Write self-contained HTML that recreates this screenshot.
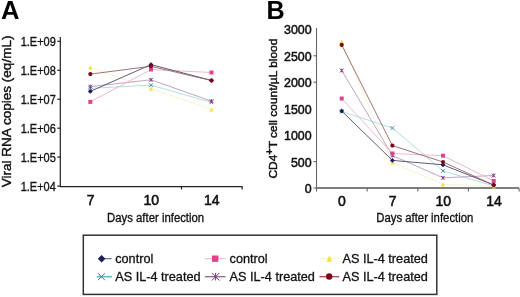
<!DOCTYPE html><html><head><meta charset="utf-8"><style>html,body{margin:0;padding:0;background:#fff;}svg{display:block;will-change:transform;}text{font-family:"Liberation Sans",sans-serif;stroke:#111;stroke-width:0.3px;}</style></head><body>
<svg width="520" height="297" viewBox="0 0 520 297">
<rect width="520" height="297" fill="#fff"/>
<text x="0.9" y="19.2" font-size="25.6" font-weight="bold" fill="#000" style="stroke:none">A</text>
<text x="266.4" y="19.2" font-size="25.2" font-weight="bold" fill="#000" style="stroke:none">B</text>
<g stroke="#222" stroke-width="1.2" fill="none">
<path d="M60.3 37V186.6H242.5"/>
<path d="M57.3 41.3H60.3"/>
<path d="M57.3 70.3H60.3"/>
<path d="M57.3 99.2H60.3"/>
<path d="M57.3 128.2H60.3"/>
<path d="M57.3 157.1H60.3"/>
<path d="M57.3 186.1H60.3"/>
<path d="M181.5 186.6V189.6M242.2 186.6V189.6"/>
</g>
<text transform="translate(55.8 45.9) scale(1 1.08)" font-size="11" text-anchor="end" fill="#111">1.E+09</text>
<text transform="translate(55.8 74.9) scale(1 1.08)" font-size="11" text-anchor="end" fill="#111">1.E+08</text>
<text transform="translate(55.8 103.8) scale(1 1.08)" font-size="11" text-anchor="end" fill="#111">1.E+07</text>
<text transform="translate(55.8 132.8) scale(1 1.08)" font-size="11" text-anchor="end" fill="#111">1.E+06</text>
<text transform="translate(55.8 161.7) scale(1 1.08)" font-size="11" text-anchor="end" fill="#111">1.E+05</text>
<text transform="translate(55.8 190.7) scale(1 1.08)" font-size="11" text-anchor="end" fill="#111">1.E+04</text>
<text x="90.6" y="204.8" font-size="14" text-anchor="middle" fill="#111" style="stroke-width:0.55px">7</text>
<text x="151.3" y="204.8" font-size="14" text-anchor="middle" fill="#111" style="stroke-width:0.55px">10</text>
<text x="211.8" y="204.8" font-size="14" text-anchor="middle" fill="#111" style="stroke-width:0.55px">14</text>
<text transform="translate(155.6 222) scale(1 1.12)" font-size="11.35" text-anchor="middle" fill="#111">Days after infection</text>
<text transform="translate(11.0 111.4) rotate(-90) scale(1.075 1)" font-size="12.6" text-anchor="middle" fill="#111" style="stroke-width:0.4px">Viral RNA copies (eq/mL)</text>
<polyline points="90.3,67.4 151.0,88.7 211.5,109.5" fill="none" stroke="#f5f0cc" stroke-width="0.9"/>
<polyline points="90.3,88.3 151.0,85.2 211.5,102.3" fill="none" stroke="#a8dadc" stroke-width="0.9"/>
<polyline points="90.3,86.6 151.0,79.8 211.5,101.2" fill="none" stroke="#b69cb6" stroke-width="0.9"/>
<polyline points="90.3,101.9 151.0,69.5 211.5,72.5" fill="none" stroke="#ebb2c8" stroke-width="0.9"/>
<polyline points="90.3,91.4 151.0,64.6 211.5,80.4" fill="none" stroke="#4c4c66" stroke-width="0.9"/>
<polyline points="90.3,74.1 151.0,66.3 211.5,80.6" fill="none" stroke="#946468" stroke-width="0.9"/>
<path d="M90.3 65.3L92.4 69.5L88.2 69.5Z" fill="#f2e23a"/>
<path d="M151 86.6L153.1 90.8L148.9 90.8Z" fill="#f2e23a"/>
<path d="M211.5 107.4L213.6 111.6L209.4 111.6Z" fill="#f2e23a"/>
<path d="M88.4 86.4L92.2 90.2M92.2 86.4L88.4 90.2" stroke="#4a8c9c" stroke-width="1" fill="none"/>
<path d="M149.1 83.3L152.9 87.1M152.9 83.3L149.1 87.1" stroke="#4a8c9c" stroke-width="1" fill="none"/>
<path d="M209.6 100.4L213.4 104.2M213.4 100.4L209.6 104.2" stroke="#4a8c9c" stroke-width="1" fill="none"/>
<path d="M88.4 84.7L92.2 88.5M92.2 84.7L88.4 88.5M90.3 84.7L90.3 88.5" stroke="#843c84" stroke-width="1" fill="none"/>
<path d="M149.1 77.9L152.9 81.7M152.9 77.9L149.1 81.7M151 77.9L151 81.7" stroke="#843c84" stroke-width="1" fill="none"/>
<path d="M209.6 99.3L213.4 103.1M213.4 99.3L209.6 103.1M211.5 99.3L211.5 103.1" stroke="#843c84" stroke-width="1" fill="none"/>
<rect x="88.3" y="99.9" width="4" height="4" fill="#d9478a"/>
<rect x="149" y="67.5" width="4" height="4" fill="#d9478a"/>
<rect x="209.5" y="70.5" width="4" height="4" fill="#d9478a"/>
<path d="M90.3 89L92.7 91.4L90.3 93.8L87.9 91.4Z" fill="#1c1c5c"/>
<path d="M151 62.2L153.4 64.6L151 67L148.6 64.6Z" fill="#1c1c5c"/>
<path d="M211.5 78L213.9 80.4L211.5 82.8L209.1 80.4Z" fill="#1c1c5c"/>
<circle cx="90.3" cy="74.1" r="2.1" fill="#7a0a1a"/>
<circle cx="151" cy="66.3" r="2.1" fill="#7a0a1a"/>
<circle cx="211.5" cy="80.6" r="2.1" fill="#7a0a1a"/>
<path d="M316.5 188H519" stroke="#555" stroke-width="1.6" fill="none"/>
<g stroke="#666" stroke-width="1.1" fill="none">
<path d="M316.5 28V191.5"/>
<path d="M313.5 188.0H316.5"/>
<path d="M313.5 161.6H316.5"/>
<path d="M313.5 82.2H316.5"/>
<path d="M313.5 55.8H316.5"/>
<path d="M367.1 188V191.6"/>
<path d="M417.8 188V191.6"/>
<path d="M468.4 188V191.6"/>
<path d="M519.1 188V191.6"/>
</g>
<text x="311.6" y="193.0" font-size="12.4" text-anchor="end" fill="#111" style="stroke-width:0.5px">0</text>
<text x="311.6" y="166.6" font-size="12.4" text-anchor="end" fill="#111" style="stroke-width:0.5px">500</text>
<text x="311.6" y="140.1" font-size="12.4" text-anchor="end" fill="#111" style="stroke-width:0.5px">1000</text>
<text x="311.6" y="113.7" font-size="12.4" text-anchor="end" fill="#111" style="stroke-width:0.5px">1500</text>
<text x="311.6" y="87.2" font-size="12.4" text-anchor="end" fill="#111" style="stroke-width:0.5px">2000</text>
<text x="311.6" y="60.8" font-size="12.4" text-anchor="end" fill="#111" style="stroke-width:0.5px">2500</text>
<text x="311.6" y="34.4" font-size="12.4" text-anchor="end" fill="#111" style="stroke-width:0.5px">3000</text>
<text x="342.0" y="206.0" font-size="14" text-anchor="middle" fill="#111" style="stroke-width:0.55px">0</text>
<text x="392.7" y="206.0" font-size="14" text-anchor="middle" fill="#111" style="stroke-width:0.55px">7</text>
<text x="443.3" y="206.0" font-size="14" text-anchor="middle" fill="#111" style="stroke-width:0.55px">10</text>
<text x="494.0" y="206.0" font-size="14" text-anchor="middle" fill="#111" style="stroke-width:0.55px">14</text>
<text transform="translate(424.8 222) scale(1 1.12)" font-size="11.35" text-anchor="middle" fill="#111">Days after infection</text>
<text transform="translate(276.5 178.5) rotate(-90) scale(1.085 1)" font-size="11" fill="#111" style="stroke-width:0.45px">CD4<tspan dy="-3.4" font-size="10" font-weight="bold" style="stroke-width:0.2px">+</tspan><tspan dy="3.4">T cell count/µL blood</tspan></text>
<polyline points="341.7,41.7 392.4,162.5 443.0,184.3 493.7,186.5" fill="none" stroke="#f5f0cc" stroke-width="0.9"/>
<polyline points="341.7,111.5 392.4,128.0 443.0,170.9 493.7,186.0" fill="none" stroke="#a8dadc" stroke-width="0.9"/>
<polyline points="341.7,70.5 392.4,155.5 443.0,177.8 493.7,175.5" fill="none" stroke="#b69cb6" stroke-width="0.9"/>
<polyline points="341.7,98.5 392.4,153.5 443.0,155.7 493.7,181.0" fill="none" stroke="#ebb2c8" stroke-width="0.9"/>
<polyline points="341.7,111.0 392.4,160.4 443.0,164.8 493.7,185.0" fill="none" stroke="#4c4c66" stroke-width="0.9"/>
<polyline points="341.7,44.9 392.4,145.6 443.0,162.0 493.7,185.0" fill="none" stroke="#946468" stroke-width="0.9"/>
<path d="M341.7 39.6L343.8 43.8L339.6 43.8Z" fill="#f2e23a"/>
<path d="M392.4 160.4L394.5 164.6L390.3 164.6Z" fill="#f2e23a"/>
<path d="M443 182.2L445.1 186.4L440.9 186.4Z" fill="#f2e23a"/>
<path d="M493.7 184.4L495.8 188.6L491.6 188.6Z" fill="#f2e23a"/>
<path d="M339.8 109.6L343.6 113.4M343.6 109.6L339.8 113.4" stroke="#4a8c9c" stroke-width="1" fill="none"/>
<path d="M390.5 126.1L394.3 129.9M394.3 126.1L390.5 129.9" stroke="#4a8c9c" stroke-width="1" fill="none"/>
<path d="M441.1 169L444.9 172.8M444.9 169L441.1 172.8" stroke="#4a8c9c" stroke-width="1" fill="none"/>
<path d="M491.8 184.1L495.6 187.9M495.6 184.1L491.8 187.9" stroke="#4a8c9c" stroke-width="1" fill="none"/>
<path d="M339.8 68.6L343.6 72.4M343.6 68.6L339.8 72.4M341.7 68.6L341.7 72.4" stroke="#843c84" stroke-width="1" fill="none"/>
<path d="M390.5 153.6L394.3 157.4M394.3 153.6L390.5 157.4M392.4 153.6L392.4 157.4" stroke="#843c84" stroke-width="1" fill="none"/>
<path d="M441.1 175.9L444.9 179.7M444.9 175.9L441.1 179.7M443 175.9L443 179.7" stroke="#843c84" stroke-width="1" fill="none"/>
<path d="M491.8 173.6L495.6 177.4M495.6 173.6L491.8 177.4M493.7 173.6L493.7 177.4" stroke="#843c84" stroke-width="1" fill="none"/>
<rect x="339.7" y="96.5" width="4" height="4" fill="#d9478a"/>
<rect x="390.4" y="151.5" width="4" height="4" fill="#d9478a"/>
<rect x="441" y="153.7" width="4" height="4" fill="#d9478a"/>
<rect x="491.7" y="179" width="4" height="4" fill="#d9478a"/>
<path d="M341.7 108.6L344.1 111L341.7 113.4L339.3 111Z" fill="#1c1c5c"/>
<path d="M392.4 158L394.8 160.4L392.4 162.8L390 160.4Z" fill="#1c1c5c"/>
<path d="M443 162.4L445.4 164.8L443 167.2L440.6 164.8Z" fill="#1c1c5c"/>
<path d="M493.7 182.6L496.1 185L493.7 187.4L491.3 185Z" fill="#1c1c5c"/>
<circle cx="341.7" cy="44.9" r="2.1" fill="#7a0a1a"/>
<circle cx="392.4" cy="145.6" r="2.1" fill="#7a0a1a"/>
<circle cx="443" cy="162" r="2.1" fill="#7a0a1a"/>
<circle cx="493.7" cy="185" r="2.1" fill="#7a0a1a"/>
<rect x="83.3" y="235.2" width="353.5" height="59.2" fill="none" stroke="#333" stroke-width="1.5"/>
<path d="M104 258.7H111.6" stroke="#505068" stroke-width="1"/>
<path d="M96.8 276.7H112" stroke="#5cc8c8" stroke-width="1.8"/>
<path d="M204.8 258.7H225.5" stroke="#e8b4ca" stroke-width="1"/>
<path d="M204.8 276.7H225.6" stroke="#8a6a8a" stroke-width="1.3"/>
<path d="M319.5 258.7H339.3" stroke="#f6f1cc" stroke-width="1"/>
<path d="M319.4 276.7H339.3" stroke="#a04858" stroke-width="1.3"/>
<path d="M101.6 254.9L105.4 258.7L101.6 262.5L97.8 258.7Z" fill="#1c1c5c"/>
<path d="M97.9 273.2L104.9 280.2M104.9 273.2L97.9 280.2" stroke="#5a6a9a" stroke-width="1" fill="none"/>
<rect x="212" y="255.5" width="6.4" height="6.4" fill="#d9478a"/>
<path d="M211.8 272.9L219.4 280.5M219.4 272.9L211.8 280.5M215.6 272.9L215.6 280.5" stroke="#7a3a7a" stroke-width="1" fill="none"/>
<path d="M329.3 255.29999999999998L332.1 261.8L326.5 261.8Z" fill="#f2e23a"/>
<circle cx="329.2" cy="276.5" r="3.2" fill="#7a0a1a"/>
<text x="115.2" y="262.6" font-size="12.7" fill="#111">control</text>
<text x="229.6" y="262.6" font-size="12.7" fill="#111">control</text>
<text x="342.5" y="262.6" font-size="12.7" fill="#111">AS IL-4 treated</text>
<text x="115.2" y="280.6" font-size="12.7" fill="#111">AS IL-4 treated</text>
<text x="229.6" y="280.6" font-size="12.7" fill="#111">AS IL-4 treated</text>
<text x="342.5" y="280.6" font-size="12.7" fill="#111">AS IL-4 treated</text>
</svg></body></html>
